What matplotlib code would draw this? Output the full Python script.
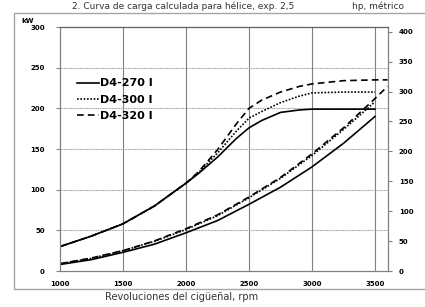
import matplotlib.pyplot as plt
from matplotlib.patches import Rectangle

# rpm points
rpm = [1000, 1250, 1500, 1750, 2000, 2100, 2250, 2400, 2500, 2600, 2750, 2900, 3000, 3250, 3500]
rpm_320 = rpm + [3600]

# kW, full load curves
kw_270 = [30, 43, 58, 80, 108, 120, 140, 163, 176, 185, 195, 198, 199, 199, 199]
kw_300 = [30, 43, 58, 80, 108, 121, 145, 172, 188, 196, 207, 215, 219, 220, 220]
kw_320 = [30, 43, 58, 80, 108, 122, 149, 181, 200, 210, 220, 227, 230, 234, 235, 235]

# kW, propeller curves
rpm_p = [1000, 1250, 1500, 1750, 2000, 2250, 2500, 2750, 3000, 3250, 3500]
rpm_p320 = rpm_p + [3600]
prop_270 = [8, 14, 23, 33, 47, 62, 82, 103, 128, 157, 190]
prop_300 = [9, 15.5, 25, 36.5, 51, 68, 90, 114, 142, 174, 208]
prop_320 = [9, 16, 25, 37, 52, 69, 91, 115, 144, 176, 212, 227]

legend_labels = ['D4-270 I', 'D4-300 I', 'D4-320 I']
x_ticks = [1000, 1500, 2000, 2500, 3000, 3500]
kw_ticks = [0, 50, 100, 150, 200, 250, 300]
hp_ticks = [0, 50, 100, 150, 200, 250, 300, 350, 400]
KW_TO_HP = 1.35962

W, H = 425, 307
fig = plt.figure(figsize=(W / 100, H / 100), dpi=100)
ax = fig.add_axes([60 / W, 1 - 271 / H, (387.6 - 60) / W, (271 - 27) / H])

# marco exterior
fig.patches.append(Rectangle((14 / W, 1 - 289 / H), 1.2, (289 - 13) / H,
                             transform=fig.transFigure, fill=False,
                             edgecolor='#a6a6a6', lw=1.0))

lw = 1.2
l1, = ax.plot(rpm, kw_270, color='black', lw=lw, ls='-')
l2, = ax.plot(rpm, kw_300, color='black', lw=lw, ls=(0, (1, 1)))
l3, = ax.plot(rpm_320, kw_320, color='black', lw=lw, ls=(0, (4, 2.5)))
ax.plot(rpm_p, prop_270, color='black', lw=lw, ls='-')
ax.plot(rpm_p, prop_300, color='black', lw=lw, ls=(0, (1, 1)))
ax.plot(rpm_p320, prop_320, color='black', lw=lw, ls=(0, (4, 2.5)))

ax.set_xlim(1000, 3600)
ax.set_ylim(0, 300)
ax.set_xticks(x_ticks)
ax.set_yticks(kw_ticks)
for v in x_ticks[1:]:
    ax.axvline(v, color='#808080', lw=0.8, zorder=0)
for v in kw_ticks[1:-1]:
    ax.axhline(v, color='#a0a0a0', lw=0.8, ls=(0, (1, 0.6)), zorder=0)

for s in ax.spines.values():
    s.set_color('#808080')
    s.set_linewidth(0.9)
ax.spines['top'].set_color('#606060')

tick_font = dict(fontsize=5, fontweight='bold', family='DejaVu Sans')
ax.set_xticklabels([str(v) for v in x_ticks], **tick_font)
ax.set_yticklabels([str(v) for v in kw_ticks], **tick_font)
ax.tick_params(axis='x', length=0, pad=7)
ax.tick_params(axis='y', length=3, width=0.8, color='#808080', pad=8)

ax2 = ax.twinx()
ax2.set_ylim(0, 300 * KW_TO_HP)
ax2.set_yticks(hp_ticks)
ax2.set_yticklabels([str(v) for v in hp_ticks], **tick_font)
ax2.tick_params(axis='y', length=3, width=0.8, color='#808080', pad=5)
for s in ax2.spines.values():
    s.set_visible(False)

leg = ax.legend([l1, l2, l3], legend_labels, loc='upper left',
                bbox_to_anchor=(0.02, 0.83), frameon=False, handlelength=2.0,
                handletextpad=0.1, labelspacing=0.55,
                prop=dict(size=8, weight='bold', family='DejaVu Sans'))

fig.text(72 / W, 1 - 9 / H, '2. Curva de carga calculada para hélice, exp. 2,5',
         fontsize=6.5, color='#333333', va='baseline', ha='left')
fig.text(352 / W, 1 - 9 / H, 'hp, métrico', fontsize=6.5, color='#333333',
         va='baseline', ha='left')
fig.text(21 / W, 1 - 21 / H, 'kW', fontsize=5, fontweight='bold', va='center', ha='left')
fig.text(105 / W, 1 - 297 / H, 'Revoluciones del cigüeñal, rpm', fontsize=7,
         color='#333333', va='center', ha='left')

fig.savefig('out.png', dpi=100)
